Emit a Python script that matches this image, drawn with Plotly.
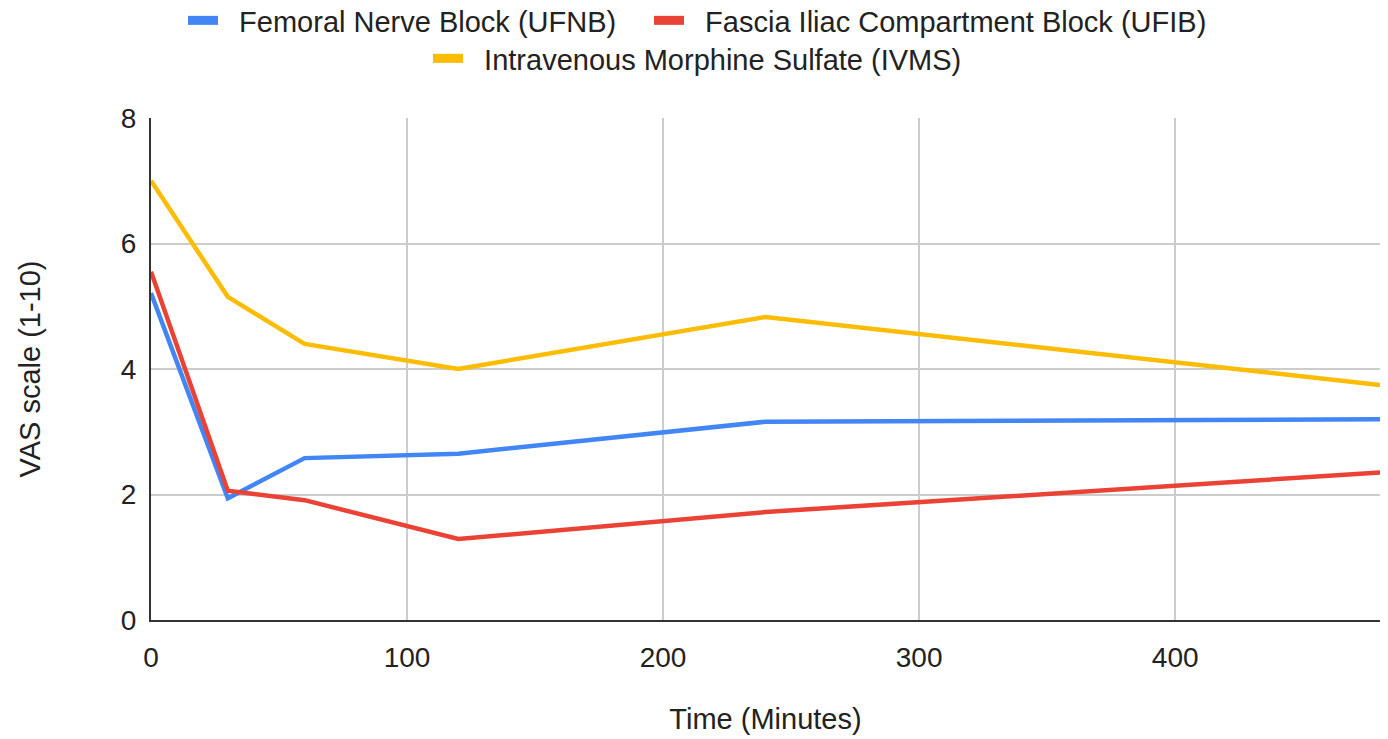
import plotly.graph_objects as go

time_min = [0, 30, 60, 120, 240, 480]
ufnb = [5.21, 1.94, 2.58, 2.65, 3.16, 3.20]
ufib = [5.55, 2.06, 1.91, 1.29, 1.72, 2.35]
ivms = [7.00, 5.15, 4.40, 4.00, 4.83, 3.745]

names = ["Femoral Nerve Block (UFNB)", "Fascia Iliac Compartment Block (UFIB)",
         "Intravenous Morphine Sulfate (IVMS)"]
colors = ["#4285F4", "#EA4335", "#FBBC04"]
series = [ufnb, ufib, ivms]

FONT = "Liberation Sans, Arial, sans-serif"
TXT = "#222222"
PAD = "\u00a0\u00a0"

fig = go.Figure()
for s, n, c in zip(series, names, colors):
    fig.add_trace(go.Scatter(x=time_min, y=s, mode="lines", name=n,
                             line=dict(color=c, width=4.5), showlegend=False,
                             hoverinfo="x+y+name"))

legend_keys = ["legend", "legend2", "legend3"]
for n, c, lk in zip(names, colors, legend_keys):
    fig.add_trace(go.Scatter(x=[None], y=[None], mode="lines", name=PAD + n,
                             line=dict(color=c, width=9),
                             legend=lk, showlegend=True))

leg_common = dict(font=dict(family=FONT, size=29, color=TXT), bgcolor="rgba(0,0,0,0)",
                  xref="container", yref="container", xanchor="left", yanchor="middle",
                  orientation="h", itemwidth=30)

fig.update_layout(
    width=1388, height=739,
    margin=dict(l=151, r=8, t=118, b=119),
    paper_bgcolor="white", plot_bgcolor="white",
    font=dict(family=FONT, size=28, color=TXT),
    legend=dict(**leg_common, x=183 / 1388, y=1 - 20.5 / 739),
    legend2=dict(**leg_common, x=649 / 1388, y=1 - 20.5 / 739),
    legend3=dict(**leg_common, x=428 / 1388, y=1 - 58.5 / 739),
    xaxis=dict(range=[0, 480], dtick=100, tick0=0, showgrid=True, gridcolor="#cccccc",
               gridwidth=1.5, zeroline=False, showline=True, linecolor="#333333", linewidth=2,
               ticks="", ticklabelstandoff=11,
               tickfont=dict(family=FONT, size=28, color=TXT),
               title=dict(text="Time (Minutes)", font=dict(family=FONT, size=29, color=TXT),
                          standoff=37)),
    yaxis=dict(range=[0, 8], dtick=2, tick0=0, showgrid=True, gridcolor="#cccccc",
               gridwidth=1.5, zeroline=False, showline=True, linecolor="#333333", linewidth=2,
               ticks="", ticklabelstandoff=7,
               tickfont=dict(family=FONT, size=28, color=TXT),
               title=dict(text="VAS scale (1-10)", font=dict(family=FONT, size=29, color=TXT),
                          standoff=72)),
)

fig.write_html("out.html")
